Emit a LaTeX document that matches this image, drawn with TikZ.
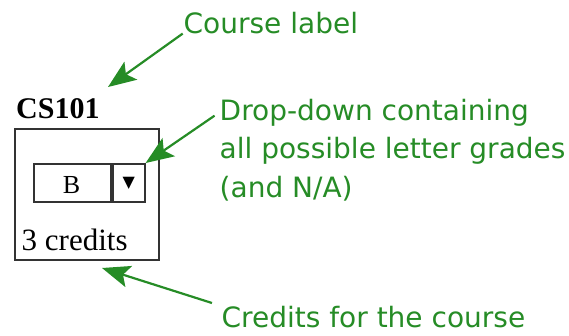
\documentclass[tikz,border=0pt]{standalone}
\usepackage{fontspec}
\setmainfont{Liberation Serif}
\newfontfamily\gsans{DejaVu Sans}
\newfontfamily\symfont{DejaVu Sans}
\usetikzlibrary{arrows.meta}
\definecolor{annot}{RGB}{38,140,38}
\definecolor{boxline}{RGB}{51,51,51}
\tikzset{
  annottext/.style={inner sep=0pt, anchor=base west, text=annot, font=\gsans\fontsize{28}{34}\selectfont},
  arr/.style={draw=annot, line width=2.2pt, -{Stealth[length=28pt,width=22pt,inset=6pt]}},
  frame/.style={draw=boxline, line width=1.8pt, inner sep=0pt, anchor=north west},
  serif/.style={inner sep=0pt, text=black},
}
\begin{document}
\begin{tikzpicture}[x=1pt,y=-1pt]
\useasboundingbox (0,0) rectangle (569,335);
% course box
\node[frame, minimum width=144pt, minimum height=131pt] (box) at (14,128) {};
\node[serif, anchor=base west, font=\fontsize{30}{36}\selectfont\bfseries] (cs) at (16,118.5) {CS101};
\node[serif, anchor=base west, font=\fontsize{31}{37}\selectfont] (cred) at (21.5,250) {3 credits};
% drop-down
\node[frame, minimum width=77pt, minimum height=38pt] (ddb) at (33,163) {};
\node[frame, minimum width=32pt, minimum height=38pt] (ddt) at (ddb.north east) {};
\node[serif, anchor=base, font=\fontsize{26}{31}\selectfont] (grade) at (71.5,193) {B};
\node[serif, anchor=center, font=\symfont\fontsize{16}{19}\selectfont] (tri) at (ddt.center) {▼};
% annotations
\node[annottext] (cl) at (183.5,33) {Course label};
\node[annottext] (d1) at (219.5,120) {Drop-down containing};
\node[annottext] (d2) at (219.5,158.5) {all possible letter grades};
\node[annottext] (d3) at (219.5,197) {(and N/A)};
\node[annottext] (cr) at (221.5,327.5) {Credits for the course};
\coordinate (tcl) at (108,87);
\coordinate (tcr) at (102,268);
% arrows
\draw[arr, shorten <=1pt] (cl.base west) -- (tcl);
\draw[arr, shorten <=6pt] (d1.west) -- (ddt.north east);
\draw[arr, shorten <=10pt] (cr.north west) -- (tcr);
\end{tikzpicture}
\end{document}
